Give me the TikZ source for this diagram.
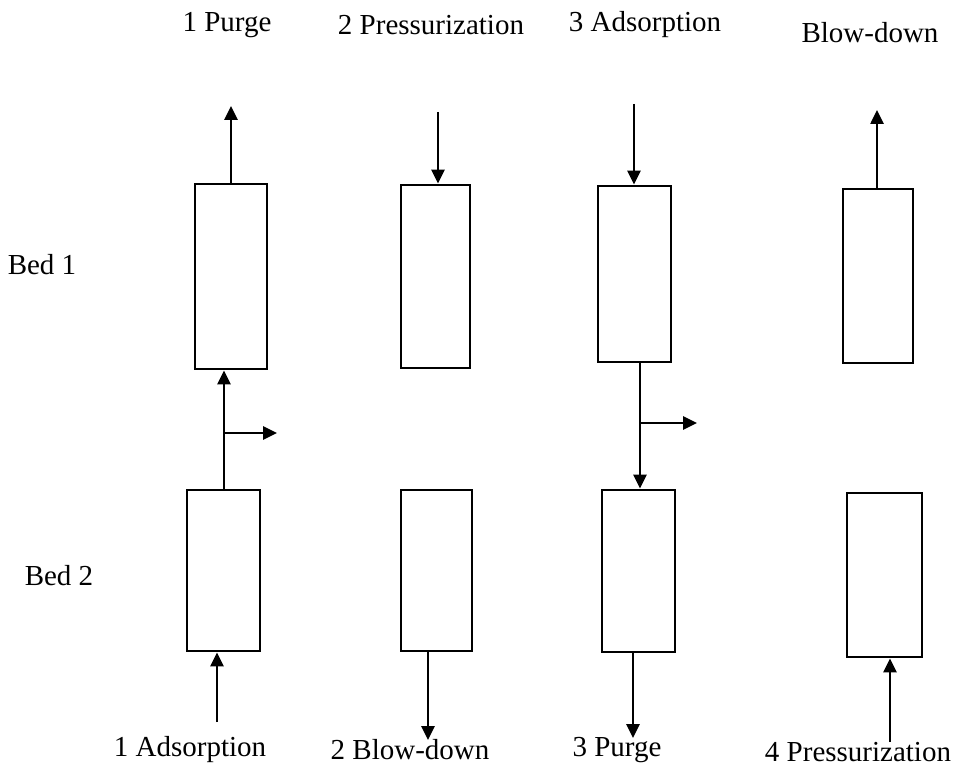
\documentclass[tikz,border=0pt]{standalone}
\usepackage{fontspec}
\setmainfont{Liberation Serif}
\usetikzlibrary{arrows.meta,positioning}

\begin{document}
\begin{tikzpicture}[
    x=1pt, y=-1pt,
    bed/.style={rectangle, draw, line width=2.8pt, inner sep=0pt},
    flow/.style={-{Triangle[length=14pt,width=13pt]}, line width=2.6pt},
    steplabel/.style={inner sep=0pt, font=\fontsize{29}{33}\selectfont}
]
    \useasboundingbox (0,0) rectangle (958,773);

    % columns of the cycle, bed 1 on top and bed 2 below
    \node[bed, minimum width=72pt, minimum height=185pt] (a1) at (231,276.5) {};
    \node[bed, minimum width=69pt, minimum height=183pt] (b1) at (435.5,276.5) {};
    \node[bed, minimum width=73pt, minimum height=176pt] (c1) at (634.5,274) {};
    \node[bed, minimum width=70pt, minimum height=174pt] (d1) at (878,276) {};
    \node[bed, minimum width=73pt, minimum height=161pt] (a2) at (223.5,570.5) {};
    \node[bed, minimum width=71pt, minimum height=161pt] (b2) at (436.5,570.5) {};
    \node[bed, minimum width=73pt, minimum height=162pt] (c2) at (638.5,571) {};
    \node[bed, minimum width=75pt, minimum height=164pt] (d2) at (884.5,575) {};

    % step names
    \node[steplabel] (t1) at (227,25) {1 Purge};
    \node[steplabel] (t2) at (431,25) {2 Pressurization};
    \node[steplabel] (t3) at (645,25) {3 Adsorption};
    \node[steplabel] (t4) at (870,33) {Blow-down};
    \node[steplabel] (s1) at (190,750) {1 Adsorption};
    \node[steplabel] (s2) at (410,750) {2 Blow-down};
    \node[steplabel] (s3) at (617,750) {3 Purge};
    \node[steplabel] (s4) at (858,752) {4 Pressurization};
    \node[steplabel] (bed1) at (42,265) {Bed 1};
    \node[steplabel] (bed2) at (59,576) {Bed 2};

    % free ends of the streams
    \coordinate (a1vent) at (231,106);
    \coordinate (b1feed) at (438,112);
    \coordinate (c1feed) at (634,104);
    \coordinate (d1vent) at (877,110);
    \coordinate (a2feed) at (217,722);
    \coordinate (b2vent) at (428,740);
    \coordinate (c2vent) at (633,738);
    \coordinate (d2feed) at (890,742);
    \coordinate (ajoin) at (224,433);
    \coordinate (aprod) at (277,433);
    \coordinate (cjoin) at (640,423);
    \coordinate (cprod) at (697,423);

    \draw[flow] (a1vent |- a1.north) -- (a1vent);
    \draw[flow] (b1feed) -- (b1feed |- b1.north);
    \draw[flow] (c1feed) -- (c1feed |- c1.north);
    \draw[flow] (d1vent |- d1.north) -- (d1vent);
    \draw[flow] (a2feed) -- (a2feed |- a2.south);
    \draw[flow] (b2vent |- b2.south) -- (b2vent);
    \draw[flow] (c2vent |- c2.south) -- (c2vent);
    \draw[flow] (d2feed) -- (d2feed |- d2.south);

    % bed 2 feeds bed 1, and the other way round
    \draw[flow] (ajoin |- a2.north) -- (ajoin |- a1.south);
    \draw[flow] (ajoin) -- (aprod);
    \draw[flow] (cjoin |- c1.south) -- (cjoin |- c2.north);
    \draw[flow] (cjoin) -- (cprod);
\end{tikzpicture}
\end{document}
